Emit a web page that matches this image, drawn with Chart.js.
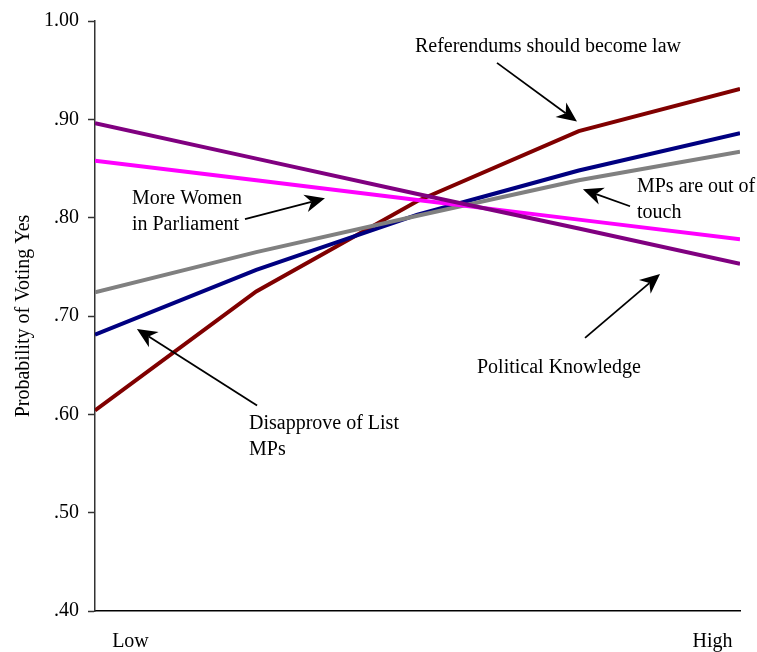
<!DOCTYPE html>
<html>
<head>
<meta charset="utf-8">
<script src="https://cdn.jsdelivr.net/npm/chart.js@4"></script>
<style>
  html, body { margin: 0; padding: 0; background: #fff; }
  #wrap { width: 757px; height: 652px; }
</style>
</head>
<body>
<div id="wrap"><canvas id="c" width="757" height="652"></canvas></div>
<script>
// ---- data ----
const xPositions = [0, 1, 2, 3, 4];               // Low ... High
const referendums = [0.604, 0.725, 0.817, 0.888, 0.931];
const disapproveList = [0.681, 0.747, 0.803, 0.848, 0.886];
const mpsOutOfTouch = [0.724, 0.765, 0.802, 0.838, 0.867];
const moreWomen = [0.858, 0.838, 0.818, 0.798, 0.778];
const politicalKnowledge = [0.896, 0.860, 0.824, 0.789, 0.753];

const xTickValues = [0.22, 3.83];
const xTickLabels = ['Low', 'High'];
const yTickValues = [0.4, 0.5, 0.6, 0.7, 0.8, 0.9, 1.0];
const yTickLabels = ['.40', '.50', '.60', '.70', '.80', '.90', '1.00'];

// annotations in data units: text lines, text anchor, arrow tail -> head
const annotations = [
  { lines: ['Referendums should become law'], x: 1.984, y: 0.9737, from: [2.493, 0.9574], to: [2.989, 0.8977] },
  { lines: ['MPs are out of', 'touch'], x: 3.361, y: 0.8318, from: [3.318, 0.8116], to: [3.026, 0.8288] },
  { lines: ['More Women', 'in Parliament'], x: 0.229, y: 0.8197, from: [0.930, 0.7984], to: [1.426, 0.8197] },
  { lines: ['Disapprove of List', 'MPs'], x: 0.955, y: 0.5907, from: [1.005, 0.6089], to: [0.260, 0.6869] },
  { lines: ['Political Knowledge'], x: 2.369, y: 0.6474, from: [3.039, 0.6778], to: [3.504, 0.7427] }
];

const FONT = "'Liberation Serif', 'Times New Roman', serif";

function series(vals) { return vals.map((v, i) => ({ x: xPositions[i], y: v })); }

const annotationPlugin = {
  id: 'annotations',
  afterDatasetsDraw(chart) {
    const ctx = chart.ctx;
    const xs = chart.scales.x, ys = chart.scales.y;
    ctx.save();
    ctx.fillStyle = '#000';
    ctx.strokeStyle = '#000';
    ctx.font = '20px ' + FONT;
    ctx.textBaseline = 'middle';
    ctx.textAlign = 'left';
    annotations.forEach(a => {
      const tx = xs.getPixelForValue(a.x), ty = ys.getPixelForValue(a.y);
      a.lines.forEach((t, i) => ctx.fillText(t, tx, ty + i * 26));
      const x1 = xs.getPixelForValue(a.from[0]), y1 = ys.getPixelForValue(a.from[1]);
      const x2 = xs.getPixelForValue(a.to[0]), y2 = ys.getPixelForValue(a.to[1]);
      const ang = Math.atan2(y2 - y1, x2 - x1);
      const hl = 20, hw = 9, notch = 6;
      const c = Math.cos(ang), s = Math.sin(ang);
      const bx = x2 - hl * c, by = y2 - hl * s;
      ctx.lineWidth = 1.8;
      ctx.beginPath();
      ctx.moveTo(x1, y1);
      ctx.lineTo(x2 - (hl - notch) * c, y2 - (hl - notch) * s);
      ctx.stroke();
      ctx.beginPath();
      ctx.moveTo(x2, y2);
      ctx.lineTo(bx + hw * s, by - hw * c);
      ctx.lineTo(x2 - (hl - notch) * c, y2 - (hl - notch) * s);
      ctx.lineTo(bx - hw * s, by + hw * c);
      ctx.closePath();
      ctx.fill();
    });
    ctx.restore();
  }
};

const ds = (data, color) => ({
  data: series(data), borderColor: color, backgroundColor: color,
  borderWidth: 4, pointRadius: 0, tension: 0, fill: false
});

new Chart(document.getElementById('c'), {
  type: 'line',
  data: {
    datasets: [
      ds(politicalKnowledge, '#800080'),
      ds(moreWomen, '#FF00FF'),
      ds(mpsOutOfTouch, '#808080'),
      ds(disapproveList, '#000080'),
      ds(referendums, '#800000')
    ]
  },
  options: {
    responsive: false,
    animation: false,
    events: [],
    layout: { padding: { top: 19, right: 17, left: 0, bottom: 0 } },
    plugins: { legend: { display: false }, tooltip: { enabled: false } },
    scales: {
      x: {
        type: 'linear', min: 0, max: 4,
        afterBuildTicks(s) { s.ticks = xTickValues.map(v => ({ value: v })); },
        afterFit(s) { s.height = 41; },
        ticks: {
          autoSkip: false, maxRotation: 0, padding: 11, color: '#000',
          font: { family: FONT, size: 20 },
          callback(v, i) { return xTickLabels[i]; }
        },
        grid: { display: false },
        border: { display: true, color: '#000', width: 1.5 }
      },
      y: {
        type: 'linear', min: 0.4, max: 1.0,
        afterBuildTicks(s) { s.ticks = yTickValues.map(v => ({ value: v })); },
        afterFit(s) { s.width = 95; },
        ticks: {
          autoSkip: false, padding: 9, color: '#000',
          font: { family: FONT, size: 20 },
          callback(v, i) { return yTickLabels[i]; }
        },
        grid: { drawOnChartArea: false, drawTicks: true, tickLength: 7, color: '#333', tickWidth: 1.5 },
        border: { display: true, color: '#333', width: 1.5 },
        title: {
          display: true, text: 'Probability of Voting Yes', color: '#000',
          font: { family: FONT, size: 20 }, padding: { top: 12, bottom: 0 }
        }
      }
    }
  },
  plugins: [annotationPlugin]
});
</script>
</body>
</html>
